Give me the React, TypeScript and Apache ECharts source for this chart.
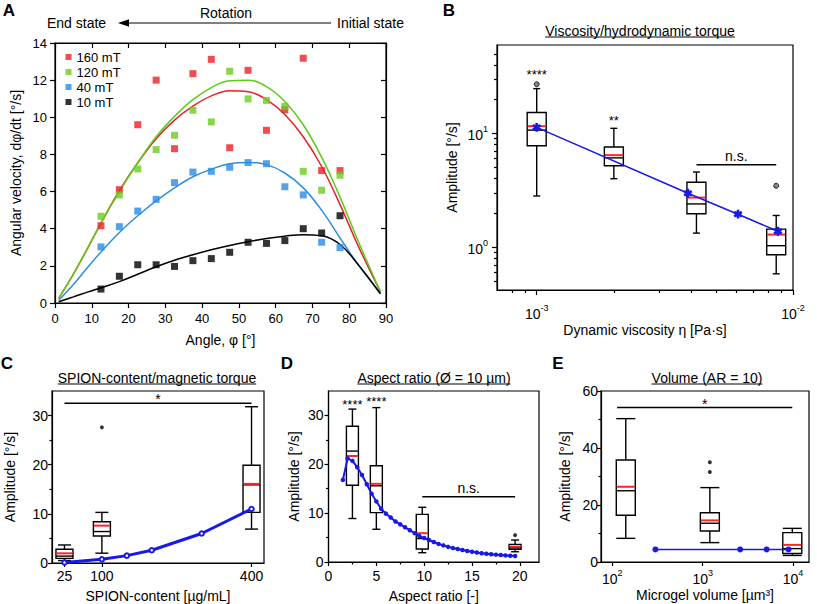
import React, { useEffect, useRef } from "react";
import * as echarts from "echarts";

const FONT = "'Liberation Sans', Arial, Helvetica, sans-serif";
const BLACK = "#000";
const RED_MEAN = "#ff2626";
const MODEL_BLUE = "#1818e8";

// ---------- Panel A : angular velocity vs angle ----------
const angles = [12.5, 17.5, 22.5, 27.5, 32.5, 37.5, 42.5, 47.5, 52.5, 57.5, 62.5, 67.5, 72.5, 77.5];
const vel160 = [4.16, 6.1, 9.6, 12.0, 8.31, 12.35, 13.12, 8.36, 12.53, 9.3, 10.41, 13.18, 7.13, 7.13];
const vel120 = [4.67, 5.82, 7.22, 8.26, 9.03, 10.38, 9.75, 12.48, 10.99, 10.91, 10.59, 7.09, 6.07, 6.88];
const vel40 = [3.02, 4.11, 4.95, 5.58, 6.48, 7.05, 7.09, 7.31, 7.56, 7.5, 6.26, 5.82, 3.27, 2.98];
const vel10 = [0.75, 1.44, 2.06, 2.06, 1.97, 2.28, 2.39, 2.73, 3.27, 3.21, 3.36, 4.0, 3.77, 4.7];
const fitAngles = [1, 5, 9, 12.5, 17.5, 22.5, 27.5, 32.5, 37.5, 42.5, 47.5, 52.5, 57.5, 62.5, 67.5, 72.5, 77.5, 82.5, 88.5];
const fit160 = [0.25, 1.55, 3.0, 4.3, 6.05, 7.55, 8.85, 9.85, 10.6, 11.15, 11.43, 11.38, 10.95, 10.15, 8.95, 7.35, 5.3, 3.05, 0.6];
const fit120 = [0.25, 1.55, 3.0, 4.3, 6.0, 7.55, 8.95, 10.05, 10.95, 11.6, 11.97, 12.0, 11.65, 10.85, 9.6, 7.85, 5.7, 3.3, 0.6];
const fit40 = [0.15, 1.0, 1.95, 2.75, 3.8, 4.7, 5.5, 6.2, 6.8, 7.2, 7.5, 7.57, 7.45, 7.0, 6.2, 5.0, 3.5, 2.05, 0.5];
const fit10 = [0.07, 0.33, 0.6, 0.82, 1.15, 1.55, 1.95, 2.3, 2.6, 2.87, 3.1, 3.3, 3.47, 3.6, 3.68, 3.62, 3.15, 2.05, 0.5];
const fieldNames = ["160 mT", "120 mT", "40 mT", "10 mT"];
const fieldColors = ["#ee1f25", "#6dcc1e", "#2b8be6", "#000000"];
const fitColors = ["#e8212a", "#5ecb1a", "#2d8fe0", "#000000"];
const angleTicks = { min: 0, max: 90, interval: 10 };
const velTicks = { min: 0, max: 14, interval: 2 };

// ---------- Panel B : viscosity ----------
const viscosity = [1e-3, 2e-3, 4.2e-3, 8.6e-3];
const bLow = [2.82, 4.0, 1.33, 0.583];
const bQ1 = [7.8, 5.2, 1.97, 0.857];
const bMedian = [10.7, 6.1, 2.4, 1.03];
const bQ3 = [15.3, 7.6, 3.72, 1.44];
const bHigh = [24.8, 11.1, 4.58, 1.9];
const bMean = [11.6, 6.45, 2.73, 1.29];
const bOutliers = [[1e-3, 27.1], [8.6e-3, 3.47]];
const bModelX = [1e-3, 3.89e-3, 6.1e-3, 8.73e-3];
const bModelY = [11.3, 2.98, 1.95, 1.38];
const bSigBars = [[4.2e-3, 8.6e-3, 5.31]];
const bSigText = ["n.s."];
const bStarPos = [[1e-3, 35.2], [2e-3, 14.0]];
const bStarText = ["****", "**"];
const bXLabels = [1e-3, 1e-2];
const bXMinor = [8e-4, 9e-4, 2e-3, 3e-3, 4e-3, 5e-3, 6e-3, 7e-3, 8e-3, 9e-3];
const bYLabels = [1, 10];
const bYMinor = [0.5, 0.6, 0.7, 0.8, 0.9, 2, 3, 4, 5, 6, 7, 8, 9, 20, 30, 40, 50];

// ---------- Panel C : SPION content ----------
const spion = [25, 100, 400];
const cLow = [0.5, 2.0, 6.9];
const cQ1 = [0.95, 5.5, 10.3];
const cMedian = [1.4, 6.4, 15.9];
const cQ3 = [2.79, 8.4, 19.9];
const cHigh = [3.67, 10.3, 31.8];
const cMean = [1.97, 7.6, 16.1];
const cOutliers = [[100, 27.6]];
const cModelX = [25, 100, 150, 200, 300, 400];
const cModelY = [0.1, 0.75, 1.5, 2.6, 6.0, 11.0];
const cSigBars = [[25, 400, 32.5]];
const cSigText = ["*"];
const cXLabels = [25, 100, 400];
const ampLabels35 = [0, 10, 20, 30];
const ampMinor35 = [5, 15, 25];

// ---------- Panel D : aspect ratio ----------
const aspect = [2.5, 5, 9.8, 19.5];
const dLow = [8.9, 6.7, 1.9, 2.1];
const dQ1 = [15.7, 10.1, 2.66, 2.6];
const dMedian = [22.7, 15.6, 4.8, 2.9];
const dQ3 = [27.8, 19.7, 9.75, 3.6];
const dHigh = [31.3, 31.6, 11.2, 4.5];
const dMean = [21.7, 16.0, 5.9, 3.15];
const dOutliers = [[19.5, 5.5]];
const dModelX = [1.5, 2, 2.5, 3, 3.5, 4, 4.5, 5, 5.5, 6, 6.5, 7, 7.5, 8, 8.5, 9, 9.5, 10, 10.5, 11, 11.5, 12, 12.5, 13, 13.5, 14, 14.5, 15, 15.5, 16, 16.5, 17, 17.5, 18, 18.5, 19, 19.5];
const dModelY = [16.8, 21.2, 20.7, 19.4, 17.8, 15.9, 14.0, 12.4, 10.9, 9.9, 9.1, 8.3, 7.7, 7.1, 6.5, 5.9, 5.3, 4.9, 4.5, 4.1, 3.7, 3.4, 3.1, 2.85, 2.65, 2.45, 2.25, 2.1, 1.95, 1.8, 1.7, 1.6, 1.5, 1.42, 1.35, 1.28, 1.22];
const dSigBars = [[9.8, 19.5, 13.35]];
const dSigText = ["n.s."];
const dStarPos = [[2.5, 33.0], [5, 33.5]];
const dStarText = ["****", "****"];
const dXLabels = [0, 5, 10, 15, 20];
const dXMinor = [2.5, 7.5, 12.5, 17.5];

// ---------- Panel E : volume ----------
const volume = [141, 1200, 9800];
const eLow = [8.3, 6.8, 2.3];
const eQ1 = [16.4, 10.9, 3.0];
const eMedian = [25.0, 13.6, 4.7];
const eQ3 = [35.8, 17.3, 10.3];
const eHigh = [50.3, 26.1, 11.8];
const eMean = [26.4, 14.6, 6.0];
const eOutliers = [[1200, 35.0], [1200, 31.6]];
const eModelX = [300, 2600, 5100, 8900];
const eModelY = [4.4, 4.4, 4.4, 4.4];
const eSigBars = [[113, 9800, 54.2]];
const eSigText = ["*"];
const eXLabels = [100, 1000, 10000];
const eYLabels = [0, 20, 40, 60];
const eYMinor = [10, 30, 50];

const AXLINE = { color: BLACK, width: 1.2 };

function mkAxis(o: any) {
  const ax: any = {
    type: o.type || "value",
    gridIndex: o.gridIndex,
    min: o.min,
    max: o.max,
    position: o.position,
    axisLine: { show: o.showLine !== false, onZero: false, lineStyle: AXLINE },
    axisTick: {
      show: true,
      inside: !!o.inside,
      length: o.tickLen ?? 4,
      lineStyle: AXLINE,
      ...(o.tickValues ? { customValues: o.tickValues } : {}),
    },
    axisLabel:
      o.showLabel === false
        ? { show: false }
        : {
            show: true,
            color: BLACK,
            fontFamily: FONT,
            fontSize: o.labelSize ?? 14,
            margin: o.margin ?? 6,
            ...(o.labelValues ? { customValues: o.labelValues } : {}),
            ...(o.formatter ? { formatter: o.formatter } : {}),
            ...(o.rich ? { rich: o.rich } : {}),
          },
    splitLine: { show: false },
  };
  if (o.type === "log") ax.logBase = 10;
  if (o.interval) ax.interval = o.interval;
  if (o.name) {
    ax.name = o.name;
    ax.nameLocation = "middle";
    ax.nameGap = o.nameGap;
    ax.nameTextStyle = { color: BLACK, fontFamily: FONT, fontSize: o.nameSize ?? 14 };
  }
  return ax;
}

const pow10 = (v: number) => `{b|10}{s|${Math.round(Math.log10(v))}}`;
const powRich = {
  b: { fontSize: 14, fontFamily: FONT, color: BLACK, lineHeight: 18, verticalAlign: "bottom" },
  s: { fontSize: 9, fontFamily: FONT, color: BLACK, lineHeight: 11, verticalAlign: "top" },
};

function boxSeries(xi: number, yi: number, xs: number[], low: number[], q1: number[], med: number[], q3: number[], high: number[], mean: number[], boxW: number, capW: number) {
  return {
    type: "custom",
    xAxisIndex: xi,
    yAxisIndex: yi,
    z: 2,
    silent: true,
    encode: { x: 0, y: [1, 2, 3, 4, 5, 6] },
    data: xs.map((x, i) => [x, low[i], q1[i], med[i], q3[i], high[i], mean[i]]),
    renderItem: (_p: any, api: any) => {
      const x = api.value(0);
      const Y = (d: number) => api.coord([x, api.value(d)])[1];
      const cx = api.coord([x, api.value(3)])[0];
      const yl = Y(1), yq1 = Y(2), ym = Y(3), yq3 = Y(4), yh = Y(5), ya = Y(6);
      const hb = boxW / 2, hc = capW / 2;
      const st = { stroke: BLACK, lineWidth: 1.4 };
      const ln = (x1: number, y1: number, x2: number, y2: number, style: any = st) => ({ type: "line", shape: { x1, y1, x2, y2 }, style });
      return {
        type: "group",
        children: [
          ln(cx, yh, cx, yq3),
          ln(cx, yq1, cx, yl),
          ln(cx - hc, yh, cx + hc, yh),
          ln(cx - hc, yl, cx + hc, yl),
          { type: "rect", shape: { x: cx - hb, y: yq3, width: boxW, height: yq1 - yq3 }, style: { stroke: BLACK, lineWidth: 1.4, fill: "rgba(255,255,255,0)" } },
          ln(cx - hb, ym, cx + hb, ym),
          ln(cx - hb + 0.5, ya, cx + hb - 0.5, ya, { stroke: RED_MEAN, lineWidth: 2 }),
        ],
      };
    },
  };
}

function textStyle(text: string, size: number, align: string, vAlign: string) {
  return {
    text,
    fill: BLACK,
    font: `${size}px ${FONT}`,
    align,
    verticalAlign: vAlign,
    textAlign: align,
    textVerticalAlign: vAlign,
  };
}

function sigSeries(xi: number, yi: number, bars: number[][], texts: string[]) {
  return {
    type: "custom",
    xAxisIndex: xi,
    yAxisIndex: yi,
    z: 3,
    silent: true,
    encode: { x: [0, 1], y: 2 },
    data: bars,
    renderItem: (p: any, api: any) => {
      const p1 = api.coord([api.value(0), api.value(2)]);
      const p2 = api.coord([api.value(1), api.value(2)]);
      const t = texts[p.dataIndex];
      const star = t.indexOf("*") >= 0;
      return {
        type: "group",
        children: [
          { type: "line", shape: { x1: p1[0], y1: p1[1], x2: p2[0], y2: p2[1] }, style: { stroke: BLACK, lineWidth: 1.4 } },
          { type: "text", x: (p1[0] + p2[0]) / 2, y: star ? p1[1] - 4 : p1[1] - 2, style: textStyle(t, 14, "center", star ? "middle" : "bottom") },
        ],
      };
    },
  };
}

function starSeries(xi: number, yi: number, pts: number[][], texts: string[]) {
  return {
    type: "custom",
    xAxisIndex: xi,
    yAxisIndex: yi,
    z: 3,
    silent: true,
    data: pts,
    renderItem: (p: any, api: any) => {
      const c = api.coord([api.value(0), api.value(1)]);
      return { type: "text", x: c[0], y: c[1] + 3.5, style: textStyle(texts[p.dataIndex], 13, "center", "middle") };
    },
  };
}

function outlierSeries(xi: number, yi: number, pts: number[][], hollow: boolean) {
  return {
    type: "scatter",
    xAxisIndex: xi,
    yAxisIndex: yi,
    z: 4,
    silent: true,
    symbol: "circle",
    symbolSize: hollow ? 5 : 4,
    itemStyle: hollow ? { color: "#666", borderColor: BLACK, borderWidth: 1 } : { color: BLACK },
    data: pts,
  };
}

const ASTERISK =
  "path://M-1.5,5L1.5,5L1.5,-5L-1.5,-5ZM3.58,3.8L5.08,1.2L-3.58,-3.8L-5.08,-1.2ZM-5.08,1.2L-3.58,3.8L5.08,-1.2L3.58,-3.8Z";

function buildOption() {
  const ctx = document.createElement("canvas").getContext("2d") as CanvasRenderingContext2D;
  const measure = (t: string, size: number) => {
    ctx.font = `${size}px ${FONT}`;
    return ctx.measureText(t).width;
  };

  const graphic: any[] = [];
  const letter = (t: string, x: number, y: number) =>
    graphic.push({ type: "text", x, y, style: { ...textStyle(t, 17, "center", "middle"), font: `bold 17px ${FONT}` } });
  letter("A", 9, 10);
  letter("B", 449, 10);
  letter("C", 7, 363);
  letter("D", 287, 363);
  letter("E", 558, 363);

  const title = (t: string, cx: number, cy: number) => {
    const w = measure(t, 14);
    graphic.push({ type: "text", x: cx, y: cy, style: textStyle(t, 14, "center", "middle") });
    graphic.push({ type: "line", shape: { x1: cx - w / 2, y1: cy + 6, x2: cx + w / 2, y2: cy + 6 }, style: { stroke: BLACK, lineWidth: 1 } });
  };
  title("Viscosity/hydrodynamic torque", 640, 31);
  title("SPION-content/magnetic torque", 157, 378);
  title("Aspect ratio (Ø = 10 µm)", 434, 378);
  title("Volume (AR = 10)", 707, 378);

  // header of panel A
  graphic.push({ type: "text", x: 226, y: 13, style: textStyle("Rotation", 14, "center", "middle") });
  graphic.push({ type: "text", x: 47, y: 23, style: textStyle("End state", 14, "left", "middle") });
  graphic.push({ type: "text", x: 337, y: 23, style: textStyle("Initial state", 14, "left", "middle") });
  graphic.push({ type: "line", shape: { x1: 126, y1: 23, x2: 331, y2: 23 }, style: { stroke: BLACK, lineWidth: 1.2 } });
  graphic.push({ type: "polygon", shape: { points: [[118, 23], [129, 19.3], [129, 26.7]] }, style: { fill: BLACK } });

  const grid = [
    { left: 55, top: 43, width: 331, height: 260 },
    { left: 497, top: 45, width: 296, height: 245 },
    { left: 52, top: 391, width: 212, height: 172 },
    { left: 328.5, top: 391, width: 210.5, height: 171 },
    { left: 601, top: 391, width: 208, height: 171 },
  ].map((g) => ({ ...g, show: true, borderColor: BLACK, borderWidth: 1.2, backgroundColor: "transparent", containLabel: false }));

  const xAxis = [
    mkAxis({ gridIndex: 0, ...angleTicks, position: "bottom", labelSize: 13, margin: 9, tickLen: 5, name: "Angle, φ [°]", nameGap: 30 }),
    mkAxis({ gridIndex: 0, ...angleTicks, position: "top", inside: true, tickLen: 5, showLabel: false }),
    mkAxis({ type: "log", gridIndex: 1, min: 7e-4, max: 1e-2, position: "bottom", labelValues: bXLabels, tickValues: bXLabels, formatter: pow10, rich: powRich, margin: 13, tickLen: 5, name: "Dynamic viscosity η [Pa·s]", nameGap: 33 }),
    mkAxis({ type: "log", gridIndex: 1, min: 7e-4, max: 1e-2, position: "bottom", tickValues: bXMinor, tickLen: 3, showLine: false, showLabel: false }),
    mkAxis({ gridIndex: 2, min: 0, max: 425, position: "bottom", labelValues: cXLabels, tickValues: cXLabels, margin: 6, name: "SPION-content [µg/mL]", nameGap: 26 }),
    mkAxis({ gridIndex: 3, min: 0, max: 22, position: "bottom", labelValues: dXLabels, tickValues: dXLabels, margin: 7, name: "Aspect ratio [-]", nameGap: 27 }),
    mkAxis({ gridIndex: 3, min: 0, max: 22, position: "bottom", tickValues: dXMinor, tickLen: 2.5, showLine: false, showLabel: false }),
    mkAxis({ type: "log", gridIndex: 4, min: 75, max: 15000, position: "bottom", labelValues: eXLabels, tickValues: eXLabels, formatter: pow10, rich: powRich, margin: 6, name: "Microgel volume [µm³]", nameGap: 26 }),
  ];

  const yAxis = [
    mkAxis({ gridIndex: 0, ...velTicks, position: "left", labelSize: 13, margin: 8, tickLen: 5, name: "Angular velocity, dφ/dt [°/s]", nameGap: 32 }),
    mkAxis({ gridIndex: 0, ...velTicks, position: "right", inside: true, tickLen: 5, showLabel: false }),
    mkAxis({ type: "log", gridIndex: 1, min: 0.42, max: 60, position: "left", labelValues: bYLabels, tickValues: bYLabels, formatter: pow10, rich: powRich, margin: 9, tickLen: 5, name: "Amplitude [°/s]", nameGap: 38 }),
    mkAxis({ type: "log", gridIndex: 1, min: 0.42, max: 60, position: "left", tickValues: bYMinor, tickLen: 3, showLine: false, showLabel: false }),
    mkAxis({ gridIndex: 2, min: 0, max: 35, position: "left", labelValues: ampLabels35, tickValues: ampLabels35, margin: 4, name: "Amplitude [°/s]", nameGap: 35 }),
    mkAxis({ gridIndex: 2, min: 0, max: 35, position: "left", tickValues: ampMinor35, tickLen: 2.5, showLine: false, showLabel: false }),
    mkAxis({ gridIndex: 3, min: 0, max: 35, position: "left", labelValues: ampLabels35, tickValues: ampLabels35, margin: 5, name: "Amplitude [°/s]", nameGap: 28 }),
    mkAxis({ gridIndex: 3, min: 0, max: 35, position: "left", tickValues: ampMinor35, tickLen: 2.5, showLine: false, showLabel: false }),
    mkAxis({ gridIndex: 4, min: 0, max: 60, position: "left", labelValues: eYLabels, tickValues: eYLabels, margin: 3, name: "Amplitude [°/s]", nameGap: 29 }),
    mkAxis({ gridIndex: 4, min: 0, max: 60, position: "left", tickValues: eYMinor, tickLen: 2.5, showLine: false, showLabel: false }),
  ];

  const series: any[] = [];
  const velSets = [vel160, vel120, vel40, vel10];
  const fitSets = [fit160, fit120, fit40, fit10];
  fitSets.forEach((f, k) =>
    series.push({
      type: "line",
      name: fieldNames[k] + " fit",
      xAxisIndex: 0,
      yAxisIndex: 0,
      smooth: 0.4,
      showSymbol: false,
      symbol: "none",
      z: 3,
      lineStyle: { color: fitColors[k], width: 1.5 },
      itemStyle: { color: fitColors[k] },
      data: fitAngles.map((a, i) => [a, f[i]]),
    })
  );
  velSets.forEach((v, k) =>
    series.push({
      type: "scatter",
      name: fieldNames[k],
      xAxisIndex: 0,
      yAxisIndex: 0,
      symbol: "rect",
      symbolSize: 7,
      z: 4,
      itemStyle: { color: fieldColors[k] },
      data: angles.map((a, i) => [a, v[i]]),
    })
  );

  series.push(boxSeries(2, 2, viscosity, bLow, bQ1, bMedian, bQ3, bHigh, bMean, 19, 7));
  series.push(outlierSeries(2, 2, bOutliers, true));
  series.push({
    type: "line",
    xAxisIndex: 2,
    yAxisIndex: 2,
    z: 5,
    symbol: ASTERISK,
    symbolKeepAspect: true,
    symbolSize: 9,
    lineStyle: { color: MODEL_BLUE, width: 1.5 },
    itemStyle: { color: MODEL_BLUE },
    data: bModelX.map((x, i) => [x, bModelY[i]]),
  });
  series.push(sigSeries(2, 2, bSigBars, bSigText));
  series.push(starSeries(2, 2, bStarPos, bStarText));

  series.push(boxSeries(4, 4, spion, cLow, cQ1, cMedian, cQ3, cHigh, cMean, 17, 13));
  series.push(outlierSeries(4, 4, cOutliers, false));
  series.push({
    type: "line",
    xAxisIndex: 4,
    yAxisIndex: 4,
    z: 5,
    symbol: "emptyCircle",
    symbolSize: 4.5,
    lineStyle: { color: MODEL_BLUE, width: 3 },
    itemStyle: { color: MODEL_BLUE, borderWidth: 1.2 },
    data: cModelX.map((x, i) => [x, cModelY[i]]),
  });
  series.push(sigSeries(4, 4, cSigBars, cSigText));

  series.push(boxSeries(5, 6, aspect, dLow, dQ1, dMedian, dQ3, dHigh, dMean, 12, 8));
  series.push(outlierSeries(5, 6, dOutliers, false));
  series.push({
    type: "line",
    xAxisIndex: 5,
    yAxisIndex: 6,
    z: 5,
    symbol: "circle",
    symbolSize: 4.5,
    lineStyle: { color: MODEL_BLUE, width: 2 },
    itemStyle: { color: MODEL_BLUE },
    data: dModelX.map((x, i) => [x, dModelY[i]]),
  });
  series.push(sigSeries(5, 6, dSigBars, dSigText));
  series.push(starSeries(5, 6, dStarPos, dStarText));

  series.push(boxSeries(7, 8, volume, eLow, eQ1, eMedian, eQ3, eHigh, eMean, 19, 19));
  series.push(outlierSeries(7, 8, eOutliers, false));
  series.push({
    type: "line",
    xAxisIndex: 7,
    yAxisIndex: 8,
    z: 5,
    symbol: "circle",
    symbolSize: 6,
    lineStyle: { color: MODEL_BLUE, width: 1.5 },
    itemStyle: { color: MODEL_BLUE },
    data: eModelX.map((x, i) => [x, eModelY[i]]),
  });
  series.push(sigSeries(7, 8, eSigBars, eSigText));

  return {
    animation: false,
    backgroundColor: "#ffffff",
    textStyle: { fontFamily: FONT },
    legend: {
      show: true,
      orient: "vertical",
      left: 65.5,
      top: 50.5,
      itemWidth: 6,
      itemHeight: 6,
      itemGap: 2,
      icon: "rect",
      selectedMode: false,
      padding: 0,
      data: fieldNames,
      textStyle: { fontSize: 13, fontFamily: FONT, color: BLACK, lineHeight: 13 },
    },
    grid,
    xAxis,
    yAxis,
    series,
    graphic,
  };
}

export default function App() {
  const ref = useRef<HTMLDivElement>(null);
  useEffect(() => {
    document.body.style.margin = "0";
    const chart = echarts.init(ref.current as HTMLDivElement, null, { renderer: "svg" });
    chart.setOption(buildOption() as any);
    return () => chart.dispose();
  }, []);
  return <div ref={ref} style={{ width: 817, height: 604 }} />;
}
